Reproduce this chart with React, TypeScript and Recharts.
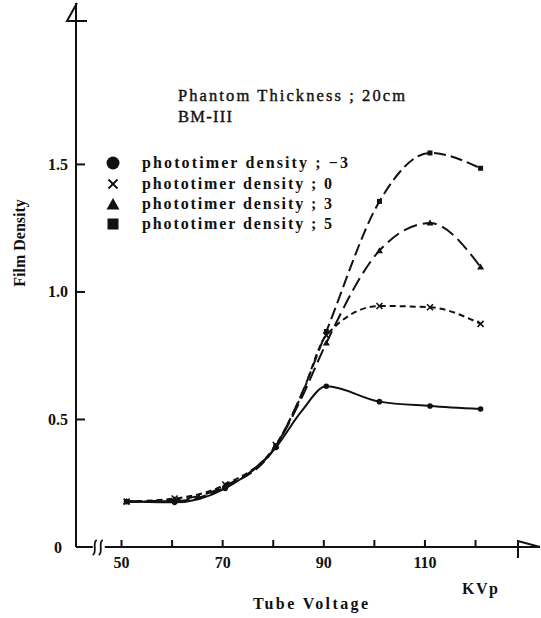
import React from "react";
import { LineChart, Line, XAxis, YAxis, ReferenceDot, Customized } from "recharts";

// ---- data ----
const kvp = [51, 60.5, 70.5, 80.5, 85.5, 90.5, 101, 111, 121];
const densMinus3 = [0.178, 0.175, 0.23, 0.39, 0.53, 0.63, 0.57, 0.553, 0.541];
const dens0 = [0.178, 0.19, 0.245, 0.4, 0.59, 0.83, 0.945, 0.94, 0.875];
const dens3 = [0.178, 0.185, 0.24, 0.395, 0.58, 0.8, 1.162, 1.27, 1.098];
const dens5 = [0.178, 0.18, 0.235, 0.395, 0.595, 0.845, 1.355, 1.545, 1.485];
const unmarkedIndex = [4];

const legendLabels = [
  "phototimer density ; \u22123",
  "phototimer density ; 0",
  "phototimer density ; 3",
  "phototimer density ; 5",
];
const titleLines = ["Phantom Thickness ; 20cm", "BM-III"];
const yTicks = [0, 0.5, 1.0, 1.5];
const yTickLabels = ["0", "0.5", "1.0", "1.5"];
const xTicks = [50, 60, 70, 80, 90, 100, 110, 120];
const xTickLabels = ["50", "", "70", "", "90", "", "110", ""];
const xAxisTitle = "Tube Voltage";
const xUnit = "KVp";
const yAxisTitle = "Film Density";

const data = kvp.map((k, i) => ({
  kvp: k,
  m3: densMinus3[i],
  z0: dens0[i],
  p3: dens3[i],
  p5: dens5[i],
}));

const INK = "#111";
const FONT = "'Liberation Serif', 'DejaVu Serif', serif";

const YTick = (props: any) => {
  const { x, y, payload } = props;
  const idx = yTicks.indexOf(payload.value);
  const label = yTickLabels[idx] ?? String(payload.value);
  const isZero = payload.value === 0;
  return (
    <g>
      {!isZero && <line x1={x} y1={y} x2={x + 9} y2={y} stroke={INK} strokeWidth={2} />}
      <text
        x={isZero ? x - 14 : x - 8}
        y={y + 5.5}
        textAnchor="end"
        fontFamily={FONT}
        fontWeight="bold"
        fontSize={16}
        fill={INK}
      >
        {label}
      </text>
    </g>
  );
};

const XTick = (props: any) => {
  const { x, y, payload } = props;
  const idx = xTicks.indexOf(payload.value);
  const label = xTickLabels[idx] ?? "";
  return (
    <g>
      <line x1={x} y1={y} x2={x} y2={y - 7} stroke={INK} strokeWidth={2} />
      {label && (
        <text
          x={x}
          y={y + 21}
          textAnchor="middle"
          fontFamily={FONT}
          fontWeight="bold"
          fontSize={16}
          fill={INK}
        >
          {label}
        </text>
      )}
    </g>
  );
};

const makeDot = (kind: string) => (props: any) => {
  const { cx, cy, index } = props;
  const key = `${kind}-${index}`;
  if (cx == null || cy == null || unmarkedIndex.includes(index)) return <g key={key} />;
  if (kind === "circle") return <circle key={key} cx={cx} cy={cy} r={2.8} fill={INK} />;
  if (kind === "cross")
    return (
      <g key={key} stroke={INK} strokeWidth={1.6}>
        <line x1={cx - 3} y1={cy - 3} x2={cx + 3} y2={cy + 3} />
        <line x1={cx - 3} y1={cy + 3} x2={cx + 3} y2={cy - 3} />
      </g>
    );
  if (kind === "triangle")
    return (
      <polygon
        key={key}
        points={`${cx},${cy - 3.5} ${cx - 3.5},${cy + 2.5} ${cx + 3.5},${cy + 2.5}`}
        fill={INK}
      />
    );
  return <rect key={key} x={cx - 2.5} y={cy - 2.5} width={5} height={5} fill={INK} />;
};

const AxisBreak = (p: any) => {
  const { cx, cy } = p;
  return (
    <g>
      <rect x={cx - 6} y={cy - 3} width={12} height={6} fill="#fff" />
      <path
        d={`M ${cx - 2} ${cy - 7} C ${cx - 7} ${cy - 5}, ${cx - 1} ${cy + 5}, ${cx - 6} ${cy + 8}`}
        stroke={INK}
        strokeWidth={1.8}
        fill="none"
      />
      <path
        d={`M ${cx + 4} ${cy - 7} C ${cx - 1} ${cy - 5}, ${cx + 5} ${cy + 5}, ${cx} ${cy + 8}`}
        stroke={INK}
        strokeWidth={1.8}
        fill="none"
      />
    </g>
  );
};

const XArrow = (p: any) => {
  const { cx, cy } = p;
  return (
    <path
      d={`M ${cx - 22} ${cy + 11} L ${cx - 22} ${cy - 6} L ${cx} ${cy}`}
      stroke={INK}
      strokeWidth={2}
      fill="none"
    />
  );
};

const YArrow = (p: any) => {
  const { cx, cy } = p;
  return (
    <path
      d={`M ${cx + 1} ${cy} L ${cx - 9} ${cy + 18} L ${cx + 11} ${cy + 18}`}
      stroke={INK}
      strokeWidth={2}
      fill="none"
    />
  );
};

const legendRowsY = [163, 184, 204, 224];
const legendTextWidths = [206, 190, 190, 190];
const legendKinds = ["circle", "cross", "triangle", "square"];

const Annotations = () => (
  <g fontFamily={FONT} fill={INK}>
    <text
      x={178}
      y={101}
      fontSize={16.5}
      stroke={INK}
      strokeWidth={0.4}
      textLength={227}
      lengthAdjust="spacing"
    >
      {titleLines[0]}
    </text>
    <text
      x={178}
      y={122}
      fontSize={16.5}
      stroke={INK}
      strokeWidth={0.4}
      textLength={54}
      lengthAdjust="spacing"
    >
      {titleLines[1]}
    </text>
    {legendLabels.map((lab, i) => {
      const cy = legendRowsY[i];
      const cx = 113;
      const kind = legendKinds[i];
      let sym;
      if (kind === "circle") sym = <circle cx={cx} cy={cy} r={6.5} fill={INK} />;
      else if (kind === "cross")
        sym = (
          <g stroke={INK} strokeWidth={1.8}>
            <line x1={cx - 4.5} y1={cy - 4.5} x2={cx + 4.5} y2={cy + 4.5} />
            <line x1={cx - 4.5} y1={cy + 4.5} x2={cx + 4.5} y2={cy - 4.5} />
          </g>
        );
      else if (kind === "triangle")
        sym = <polygon points={`${cx},${cy - 6} ${cx - 6.5},${cy + 5.5} ${cx + 6.5},${cy + 5.5}`} fill={INK} />;
      else sym = <rect x={cx - 5.5} y={cy - 5.5} width={11} height={11} fill={INK} />;
      return (
        <g key={lab}>
          {sym}
          <text
            x={142}
            y={cy + 5}
            fontSize={16}
            fontWeight="bold"
            textLength={legendTextWidths[i]}
            lengthAdjust="spacing"
          >
            {lab}
          </text>
        </g>
      );
    })}
    <text x={253} y={609} fontSize={16} fontWeight="bold" textLength={115} lengthAdjust="spacing">
      {xAxisTitle}
    </text>
    <text x={462} y={594} fontSize={16} fontWeight="bold" textLength={36} lengthAdjust="spacing">
      {xUnit}
    </text>
    <text
      x={0}
      y={0}
      fontSize={16}
      fontWeight="bold"
      textAnchor="middle"
      transform="translate(25, 243) rotate(-90)"
    >
      {yAxisTitle}
    </text>
  </g>
);

export default function App() {
  return (
    <div style={{ position: "absolute", left: 0, top: 0, background: "#fff" }}>
      <LineChart
        width={541}
        height={618}
        data={data}
        margin={{ top: 3, right: 1, bottom: 41, left: 0 }}
      >
        <XAxis
          dataKey="kvp"
          type="number"
          domain={[41, 132.75]}
          ticks={xTicks}
          tick={<XTick />}
          tickLine={false}
          tickSize={0}
          tickMargin={0}
          axisLine={{ stroke: INK, strokeWidth: 2 }}
          height={30}
          allowDataOverflow
          interval={0}
        />
        <YAxis
          type="number"
          domain={[0, 2.133]}
          ticks={yTicks}
          tick={<YTick />}
          tickLine={false}
          tickSize={0}
          tickMargin={0}
          axisLine={{ stroke: INK, strokeWidth: 2 }}
          width={76}
          allowDataOverflow
          interval={0}
        />
        <Line
          type="monotone"
          dataKey="m3"
          stroke={INK}
          strokeWidth={2}
          dot={makeDot("circle")}
          activeDot={false}
          isAnimationActive={false}
        />
        <Line
          type="monotone"
          dataKey="z0"
          stroke={INK}
          strokeWidth={2}
          strokeDasharray="6 4"
          dot={makeDot("cross")}
          activeDot={false}
          isAnimationActive={false}
        />
        <Line
          type="monotone"
          dataKey="p3"
          stroke={INK}
          strokeWidth={2}
          strokeDasharray="14 6"
          dot={makeDot("triangle")}
          activeDot={false}
          isAnimationActive={false}
        />
        <Line
          type="monotone"
          dataKey="p5"
          stroke={INK}
          strokeWidth={2}
          strokeDasharray="12 5"
          dot={makeDot("square")}
          activeDot={false}
          isAnimationActive={false}
        />
        <ReferenceDot x={45.5} y={0} shape={AxisBreak} ifOverflow="visible" />
        <ReferenceDot x={132.75} y={0} shape={XArrow} ifOverflow="visible" />
        <ReferenceDot x={41} y={2.133} shape={YArrow} ifOverflow="visible" />
        <Customized component={Annotations} />
      </LineChart>
    </div>
  );
}
